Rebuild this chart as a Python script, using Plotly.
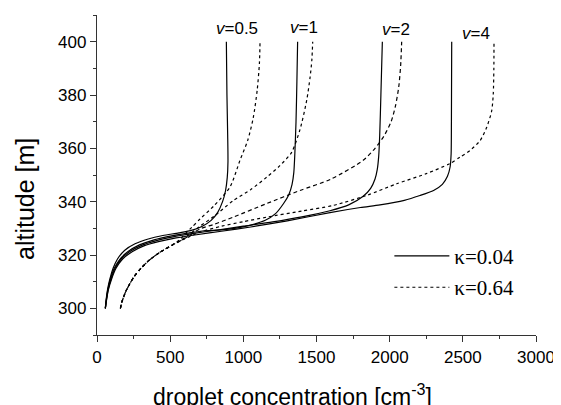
import plotly.graph_objects as go

# ---- data (droplet concentration [cm^-3], altitude [m]) ----
# kappa = 0.04 (solid)
k004_v05_x = [57, 62, 72, 88, 110, 140, 190, 260, 350, 450, 560, 650, 720, 780, 825, 858, 878, 890, 895, 893, 888, 884]
k004_v05_y = [300, 303, 307, 311, 315, 318.5, 321.8, 324.2, 326, 327.3, 328.3, 329.3, 330.8, 333, 336, 340, 344, 349, 355, 365, 380, 400]

k004_v1_x = [57, 63, 74, 92, 118, 155, 210, 290, 390, 500, 620, 720, 850, 950, 1050, 1150, 1220, 1275, 1310, 1333, 1345, 1352, 1360, 1366, 1371]
k004_v1_y = [300, 303, 307, 311, 315, 318.3, 321.2, 323.8, 325.7, 327.1, 328.2, 329, 329.4, 330.1, 331.2, 333, 335.5, 339.3, 342.5, 346.5, 351, 358, 370, 385, 400]

k004_v2_x = [57, 64, 76, 96, 124, 165, 225, 305, 400, 520, 650, 800, 1000, 1200, 1400, 1592, 1720, 1819, 1870, 1900, 1915, 1925, 1932, 1940, 1950]
k004_v2_y = [300, 303, 307, 311, 315, 318.5, 321.3, 323.6, 325.3, 326.8, 328, 329.2, 330.8, 332.4, 334.3, 336.6, 338.8, 342, 345, 348.5, 352, 357, 365, 380, 400]

k004_v4_x = [57, 65, 78, 100, 130, 175, 240, 320, 420, 540, 680, 850, 1050, 1300, 1592, 1800, 1934, 2100, 2207, 2300, 2360, 2395, 2413, 2420, 2422, 2424]
k004_v4_y = [300, 303, 307, 311, 315, 318.5, 321.2, 323.4, 325, 326.4, 327.6, 328.9, 330.5, 332.8, 335.9, 337.8, 338.8, 340.5, 342.3, 344.2, 346.5, 349.5, 353, 358, 370, 400]

# kappa = 0.64 (dotted / dashed)
k064_v05_x = [160, 168, 180, 198, 222, 255, 300, 360, 430, 510, 560, 600, 650, 704, 800, 909, 977, 1030, 1068, 1095, 1110, 1114]
k064_v05_y = [300, 302, 304, 306.5, 309, 312, 315, 318.2, 321, 323.6, 325.5, 327.8, 330.5, 333.5, 338.5, 345.5, 355.5, 363, 371.5, 382, 392, 400]

k064_v1_x = [160, 168, 180, 198, 222, 255, 300, 360, 430, 510, 570, 620, 704, 800, 931, 1050, 1160, 1250, 1330, 1387, 1433, 1456, 1468, 1474]
k064_v1_y = [300, 302, 304, 306.5, 309, 312, 315, 318.2, 321, 323.6, 325.5, 327.3, 330.8, 334.5, 340.4, 344.5, 349.2, 353.5, 358.5, 367, 378, 386.6, 393, 400]

k064_v2_x = [160, 168, 180, 198, 222, 255, 300, 360, 430, 510, 580, 620, 704, 800, 931, 1160, 1387, 1600, 1819, 1900, 1960, 2010, 2040, 2062, 2075, 2082]
k064_v2_y = [300, 302, 304, 306.5, 309, 312, 315, 318.2, 321, 323.6, 325.6, 326.9, 329.8, 331.5, 334.2, 339.3, 344.2, 348.5, 355.5, 360, 364.5, 370, 376, 383, 391, 400]

k064_v4_x = [160, 168, 180, 198, 222, 255, 300, 360, 430, 510, 580, 620, 704, 850, 1000, 1160, 1400, 1615, 1850, 2048, 2250, 2412, 2481, 2549, 2618, 2663, 2697, 2708, 2712, 2713]
k064_v4_y = [300, 302, 304, 306.5, 309, 312, 315, 318.2, 321, 323.6, 325.6, 326.6, 328.6, 330.8, 332.5, 334.2, 336.5, 338.6, 342.5, 346.7, 350.5, 354.3, 356.7, 359.2, 362.9, 367.9, 374, 380.4, 390, 400]

v_labels = ["<i>v</i>=0.5", "<i>v</i>=1", "<i>v</i>=2", "<i>v</i>=4"]
v_label_x = [960, 1415, 2042, 2589]
v_label_y = [405, 405.5, 404.5, 403]

legend_names = ["\u03ba=0.04", "\u03ba=0.64"]

x_ticks = [0, 500, 1000, 1500, 2000, 2500, 3000]
x_minor = [250, 750, 1250, 1750, 2250, 2750]
y_ticks = [300, 320, 340, 360, 380, 400]
y_minor = [290, 310, 330, 350, 370, 390, 410]

fig = go.Figure()

solid = [(k004_v05_x, k004_v05_y), (k004_v1_x, k004_v1_y), (k004_v2_x, k004_v2_y), (k004_v4_x, k004_v4_y)]
dotted = [(k064_v05_x, k064_v05_y, "dot"), (k064_v1_x, k064_v1_y, "dot"),
          (k064_v2_x, k064_v2_y, "4px,3px"), (k064_v4_x, k064_v4_y, "dot")]

for i, (xs, ys) in enumerate(solid):
    fig.add_trace(go.Scatter(x=xs, y=ys, mode="lines",
                             line=dict(color="black", width=1.2, shape="spline", smoothing=0.7),
                             name=legend_names[0], legendgroup="a", showlegend=(i == 0)))
for i, (xs, ys, d) in enumerate(dotted):
    fig.add_trace(go.Scatter(x=xs, y=ys, mode="lines",
                             line=dict(color="black", width=1.2, dash=d,
                                       shape="spline", smoothing=0.7),
                             name=legend_names[1], legendgroup="b", showlegend=(i == 0)))

for t, x, y in zip(v_labels, v_label_x, v_label_y):
    fig.add_annotation(x=x, y=y, text=t, showarrow=False, xref="x", yref="y",
                       font=dict(family="Liberation Sans, Arial", size=17, color="black"),
                       xanchor="center", yanchor="middle")

# axis titles
fig.add_annotation(x=0.446, y=-0.186, xref="paper", yref="paper", showarrow=False,
                   text="droplet concentration [cm<sup>-3</sup>]",
                   font=dict(family="Liberation Sans, Arial", size=23, color="black"),
                   xanchor="center", yanchor="middle")
fig.add_annotation(x=-0.164, y=0.425, xref="paper", yref="paper", showarrow=False,
                   text="altitude [m]", textangle=-90,
                   font=dict(family="Liberation Sans, Arial", size=25, color="black"),
                   xanchor="center", yanchor="middle")

axis_common = dict(showline=True, linecolor="#333", linewidth=1.3, showgrid=False, zeroline=False,
                   ticks="outside", ticklen=6, tickwidth=1.2, tickcolor="#333", mirror=False,
                   automargin=False,
                   tickfont=dict(family="Liberation Sans, Arial", size=17, color="black"))

fig.update_xaxes(range=[0, 3000], tickvals=x_ticks,
                 minor=dict(tickvals=x_minor, ticklen=3, tickcolor="#333", ticks="outside"),
                 **axis_common)
fig.update_yaxes(range=[290, 410], tickvals=y_ticks,
                 minor=dict(tickvals=y_minor, ticklen=3, tickcolor="#333", ticks="outside"),
                 **axis_common)

# the page body adds an 8 px offset; the figure is sized/margined to compensate
fig.update_layout(
    width=553, height=397,
    margin=dict(l=89, r=25, t=7, b=70),
    paper_bgcolor="white", plot_bgcolor="white",
    showlegend=True,
    legend=dict(x=0.666, y=0.31, xanchor="left", yanchor="top",
                bgcolor="rgba(0,0,0,0)", itemwidth=55, tracegroupgap=1,
                traceorder="grouped",
                font=dict(family="Liberation Serif, Times New Roman", size=21, color="black")),
)

fig.write_html("out.html")
